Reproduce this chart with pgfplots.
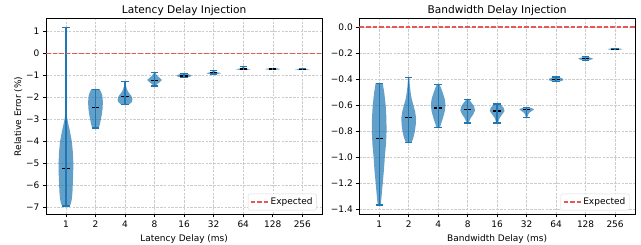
\documentclass[border=0pt]{standalone}
\usepackage{pgfplots}
\pgfplotsset{compat=1.18}
\usepackage{pgfplotstable}
\usepackage{fontspec}
\setmainfont{DejaVu Sans}
\definecolor{cZero}{RGB}{31,119,180}
\definecolor{expred}{RGB}{228,88,88}

% ---------- Latency violins: y = value, w = half width ----------
\pgfplotstableread{
y w
-6.93 0
-6.93 0.13
-6.8 0.17
-6.6 0.2
-6.3 0.22
-6.0 0.23
-5.5 0.245
-5.0 0.25
-4.5 0.235
-4.0 0.2
-3.5 0.13
-3.2 0.08
-3.0 0.05
-2.8 0.025
-2.5 0.01
-2.0 0.005
-1.0 0.003
1.18 0.002
1.18 0
}\LA
\pgfplotstableread{
y w
-3.38 0
-3.38 0.11
-3.2 0.15
-3.0 0.18
-2.8 0.21
-2.5 0.24
-2.2 0.25
-1.9 0.23
-1.75 0.19
-1.62 0.14
-1.62 0
}\LB
\pgfplotstableread{
y w
-2.3 0
-2.3 0.15
-2.2 0.23
-2.1 0.25
-2.0 0.24
-1.9 0.2
-1.8 0.14
-1.7 0.09
-1.6 0.06
-1.5 0.04
-1.4 0.025
-1.25 0.01
-1.25 0
}\LC
\pgfplotstableread{
y w
-1.47 0
-1.47 0.04
-1.4 0.08
-1.3 0.17
-1.2 0.25
-1.1 0.17
-1.0 0.08
-0.86 0.02
-0.86 0
}\LD
\pgfplotstableread{
y w
-1.08 0
-1.08 0.1
-1.05 0.2
-1.01 0.25
-0.96 0.2
-0.9 0.06
-0.9 0
}\LE
\pgfplotstableread{
y w
-0.93 0
-0.93 0.1
-0.9 0.25
-0.87 0.2
-0.84 0.08
-0.8 0.03
-0.77 0.02
-0.77 0
}\LF
\pgfplotstableread{
y w
-0.74 0
-0.74 0.12
-0.72 0.25
-0.7 0.18
-0.66 0.06
-0.62 0.03
-0.6 0.02
-0.6 0
}\LG
\pgfplotstableread{
y w
-0.74 0
-0.74 0.08
-0.72 0.22
-0.7 0.25
-0.68 0.18
-0.66 0.05
-0.66 0
}\LH
\pgfplotstableread{
y w
-0.74 0
-0.74 0.1
-0.73 0.22
-0.72 0.25
-0.71 0.18
-0.7 0.05
-0.7 0
}\LI

% ---------- Bandwidth violins ----------
\pgfplotstableread{
y w
-1.367 0
-1.367 0.05
-1.3 0.08
-1.2 0.12
-1.1 0.16
-1.0 0.19
-0.9 0.23
-0.8 0.25
-0.7 0.245
-0.6 0.22
-0.5 0.17
-0.43 0.12
-0.43 0
}\RA
\pgfplotstableread{
y w
-0.884 0
-0.884 0.1
-0.85 0.16
-0.8 0.21
-0.75 0.24
-0.7 0.25
-0.65 0.22
-0.6 0.16
-0.55 0.1
-0.5 0.065
-0.45 0.04
-0.386 0.02
-0.386 0
}\RB
\pgfplotstableread{
y w
-0.774 0
-0.774 0.06
-0.74 0.1
-0.7 0.16
-0.65 0.22
-0.6 0.25
-0.55 0.22
-0.5 0.15
-0.47 0.1
-0.442 0.05
-0.442 0
}\RC
\pgfplotstableread{
y w
-0.736 0
-0.736 0.03
-0.7 0.1
-0.67 0.19
-0.64 0.25
-0.61 0.22
-0.58 0.13
-0.557 0.05
-0.557 0
}\RD
\pgfplotstableread{
y w
-0.736 0
-0.736 0.03
-0.7 0.08
-0.67 0.17
-0.645 0.25
-0.62 0.22
-0.6 0.14
-0.59 0.08
-0.59 0
}\RE
\pgfplotstableread{
y w
-0.695 0
-0.695 0.02
-0.68 0.04
-0.66 0.08
-0.645 0.17
-0.632 0.25
-0.625 0.2
-0.618 0.1
-0.618 0
}\RF
\pgfplotstableread{
y w
-0.417 0
-0.417 0.12
-0.41 0.22
-0.402 0.25
-0.393 0.2
-0.383 0.08
-0.383 0
}\RG
\pgfplotstableread{
y w
-0.253 0
-0.253 0.12
-0.247 0.22
-0.242 0.25
-0.235 0.18
-0.228 0.06
-0.228 0
}\RH
\pgfplotstableread{
y w
-0.174 0
-0.174 0.1
-0.171 0.22
-0.168 0.25
-0.165 0.18
-0.161 0.05
-0.161 0
}\RI

% #1 position, #2 table, #3 min, #4 max, #5 median
\newcommand{\violin}[5]{%
  \addplot[draw=none, fill=cZero, fill opacity=0.7, forget plot]
    table[x expr={#1+\thisrow{w}}, y=y] {#2};
  \addplot[draw=none, fill=cZero, fill opacity=0.7, forget plot]
    table[x expr={#1-\thisrow{w}}, y=y] {#2};
  \pgfmathsetmacro\xl{#1-0.125}\pgfmathsetmacro\xr{#1+0.125}%
  \addplot[cZero, line width=1.3pt, forget plot] coordinates {(#1,#3) (#1,#4)};
  \addplot[cZero, line width=1.2pt, forget plot] coordinates {(\xl,#3) (\xr,#3)};
  \addplot[cZero, line width=1.2pt, forget plot] coordinates {(\xl,#4) (\xr,#4)};
  \addplot[black, line width=1.1pt, dash pattern=on 3pt off 1.3pt, forget plot] coordinates {(\xl,#5) (\xr,#5)};
}

\pgfplotsset{vstyle/.style={
  scale only axis, height=196pt, anchor=south west,
  xmin=0.325, xmax=9.675,
  xtick={1,2,3,4,5,6,7,8,9},
  xticklabels={1,2,4,8,16,32,64,128,256},
  tick align=outside, tick pos=left, major tick length=3pt,
  grid=major,
  grid style={dash pattern=on 2.6pt off 1.2pt, gray!40, line width=0.5pt},
  axis line style={line width=0.7pt}, tick style={black, line width=0.7pt},
  ticklabel style={font=\fontsize{9}{11}\selectfont},
  label style={font=\fontsize{9}{11}\selectfont},
  title style={font=\fontsize{10.6}{12}\selectfont, yshift=-7pt},
  legend style={at={(0.98,0.02)}, anchor=south east, draw=gray!30,
    rounded corners=2pt, font=\fontsize{9}{11}\selectfont, inner sep=2pt},
  legend image code/.code={\draw[##1] (0pt,0pt) -- (17pt,0pt);},
  expline/.style={draw=expred, line width=1.5pt, dash pattern=on 4.6pt off 2pt},
}}

\begin{document}
\begin{tikzpicture}
\useasboundingbox (0,0) rectangle (641pt,245pt);
\begin{axis}[vstyle, at={(46pt,30.7pt)}, width=276.3pt,
  ymin=-7.305, ymax=1.605,
  ytick={-7,-6,-5,-4,-3,-2,-1,0,1},
  yticklabels={−7,−6,−5,−4,−3,−2,−1,0,1},
  title={Latency Delay Injection},
  xlabel={Latency Delay (ms)}, ylabel={Relative Error (\%)},
  ylabel style={yshift=-3pt}]
\violin{1}{\LA}{-6.93}{1.18}{-5.23}
\violin{2}{\LB}{-3.38}{-1.62}{-2.44}
\violin{3}{\LC}{-2.3}{-1.25}{-1.94}
\violin{4}{\LD}{-1.47}{-0.86}{-1.21}
\violin{5}{\LE}{-1.08}{-0.9}{-1.02}
\violin{6}{\LF}{-0.93}{-0.77}{-0.86}
\violin{7}{\LG}{-0.74}{-0.6}{-0.7}
\violin{8}{\LH}{-0.74}{-0.66}{-0.7}
\violin{9}{\LI}{-0.74}{-0.7}{-0.72}
\addplot[expline] coordinates {(0.325,0) (5,0) (9.675,0)};
\addlegendentry{Expected}
\end{axis}
\begin{axis}[vstyle, at={(359.3pt,30.7pt)}, width=275.7pt,
  ymin=-1.4385, ymax=0.0685,
  ytick={-1.4,-1.2,-1.0,-0.8,-0.6,-0.4,-0.2,0},
  yticklabels={−1.4,−1.2,−1.0,−0.8,−0.6,−0.4,−0.2,0.0},
  title={Bandwidth Delay Injection},
  xlabel={Bandwidth Delay (ms)}]
\violin{1}{\RA}{-1.367}{-0.43}{-0.854}
\violin{2}{\RB}{-0.884}{-0.386}{-0.695}
\violin{3}{\RC}{-0.774}{-0.442}{-0.621}
\violin{4}{\RD}{-0.736}{-0.557}{-0.634}
\violin{5}{\RE}{-0.736}{-0.59}{-0.644}
\violin{6}{\RF}{-0.695}{-0.618}{-0.634}
\violin{7}{\RG}{-0.417}{-0.383}{-0.404}
\violin{8}{\RH}{-0.253}{-0.228}{-0.243}
\violin{9}{\RI}{-0.174}{-0.161}{-0.169}
\addplot[expline] coordinates {(0.325,0) (5,0) (9.675,0)};
\addlegendentry{Expected}
\end{axis}
\end{tikzpicture}
\end{document}
